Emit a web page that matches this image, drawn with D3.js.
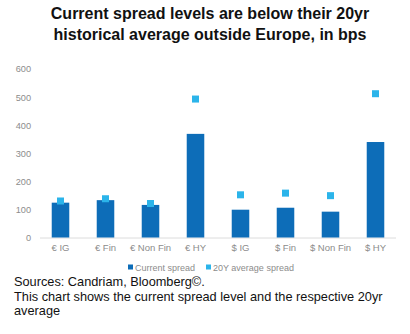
<!DOCTYPE html>
<html><head><meta charset="utf-8">
<script src="https://cdn.jsdelivr.net/npm/d3@7"></script>
<style>body{margin:0;background:#fff}svg{display:block}</style>
</head><body>
<script>
const categories = ["€ IG","€ Fin","€ Non Fin","€ HY","$ IG","$ Fin","$ Non Fin","$ HY"];
const currentSpread = [124, 133, 116, 369, 99, 106, 92, 340];
const avgSpread = [130, 138, 121, 493, 152, 158, 149, 512];
const yTicks = [0,100,200,300,400,500,600];
const titleLines = ["Current spread levels are below their 20yr","historical average outside Europe, in bps"];
const noteLines = ["Sources: Candriam, Bloomberg©.","This chart shows the current spread level and the respective 20yr","average"];
const legendLabels = ["Current spread","20Y average spread"];

const W=410,H=334;
const svg=d3.select("body").append("svg").attr("width",W).attr("height",H);
const barColor="#0d6db8", markColor="#2bb4ea", grey="#8c8c8c";

svg.selectAll("text.title").data(titleLines).join("text").attr("class","title")
 .attr("x",210).attr("y",(d,i)=>19+i*20.5).attr("text-anchor","middle")
 .attr("font-family","Liberation Sans, Arial, sans-serif").attr("font-weight","bold")
 .attr("font-size",16).attr("fill","#111").text(d=>d);

const x=d3.scaleBand().domain(categories).range([38,398]).paddingInner(0.61).paddingOuter(0.305);
const y=d3.scaleLinear().domain([0,600]).range([237.5,69]);

const yAxis=d3.axisLeft(y).tickValues(yTicks).tickSize(0).tickPadding(0);
const gy=svg.append("g").attr("transform","translate(31,0)").call(yAxis);
gy.select(".domain").remove();
gy.selectAll("text").attr("font-family","Liberation Sans, Arial, sans-serif").attr("font-size",9.2).attr("fill",grey);

svg.append("line").attr("x1",40).attr("x2",396).attr("y1",y(0)+0.5).attr("y2",y(0)+0.5).attr("stroke","#dcdcdc");

svg.selectAll("rect.bar").data(categories).join("rect").attr("class","bar")
 .attr("x",d=>x(d)).attr("width",x.bandwidth())
 .attr("y",(d,i)=>y(currentSpread[i])).attr("height",(d,i)=>y(0)-y(currentSpread[i]))
 .attr("fill",barColor);

const ms=7;
svg.selectAll("rect.mk").data(categories).join("rect").attr("class","mk")
 .attr("x",d=>x(d)+x.bandwidth()/2-ms/2).attr("width",ms)
 .attr("y",(d,i)=>y(avgSpread[i])-ms/2).attr("height",ms).attr("fill",markColor);

const xAxis=d3.axisBottom(x).tickSize(0).tickPadding(0);
const gx=svg.append("g").attr("transform","translate(0,244)").call(xAxis);
gx.select(".domain").remove();
gx.selectAll("text").attr("font-family","Liberation Sans, Arial, sans-serif").attr("font-size",9.5).attr("fill",grey);

const lg=svg.append("g");
const lx=[128,206];
legendLabels.forEach((t,i)=>{
  lg.append("rect").attr("x",lx[i]).attr("y",264.5).attr("width",5).attr("height",5).attr("fill",i?markColor:barColor);
  lg.append("text").attr("x",lx[i]+7).attr("y",270.5).attr("font-family","Liberation Sans, Arial, sans-serif")
   .attr("font-size",9).attr("fill",grey).text(t);
});

svg.selectAll("text.note").data(noteLines).join("text").attr("class","note")
 .attr("x",14).attr("y",(d,i)=>286+i*14.5)
 .attr("font-family","Liberation Sans, Arial, sans-serif").attr("font-size",12.75).attr("fill","#111").text(d=>d);
</script>
</body></html>
